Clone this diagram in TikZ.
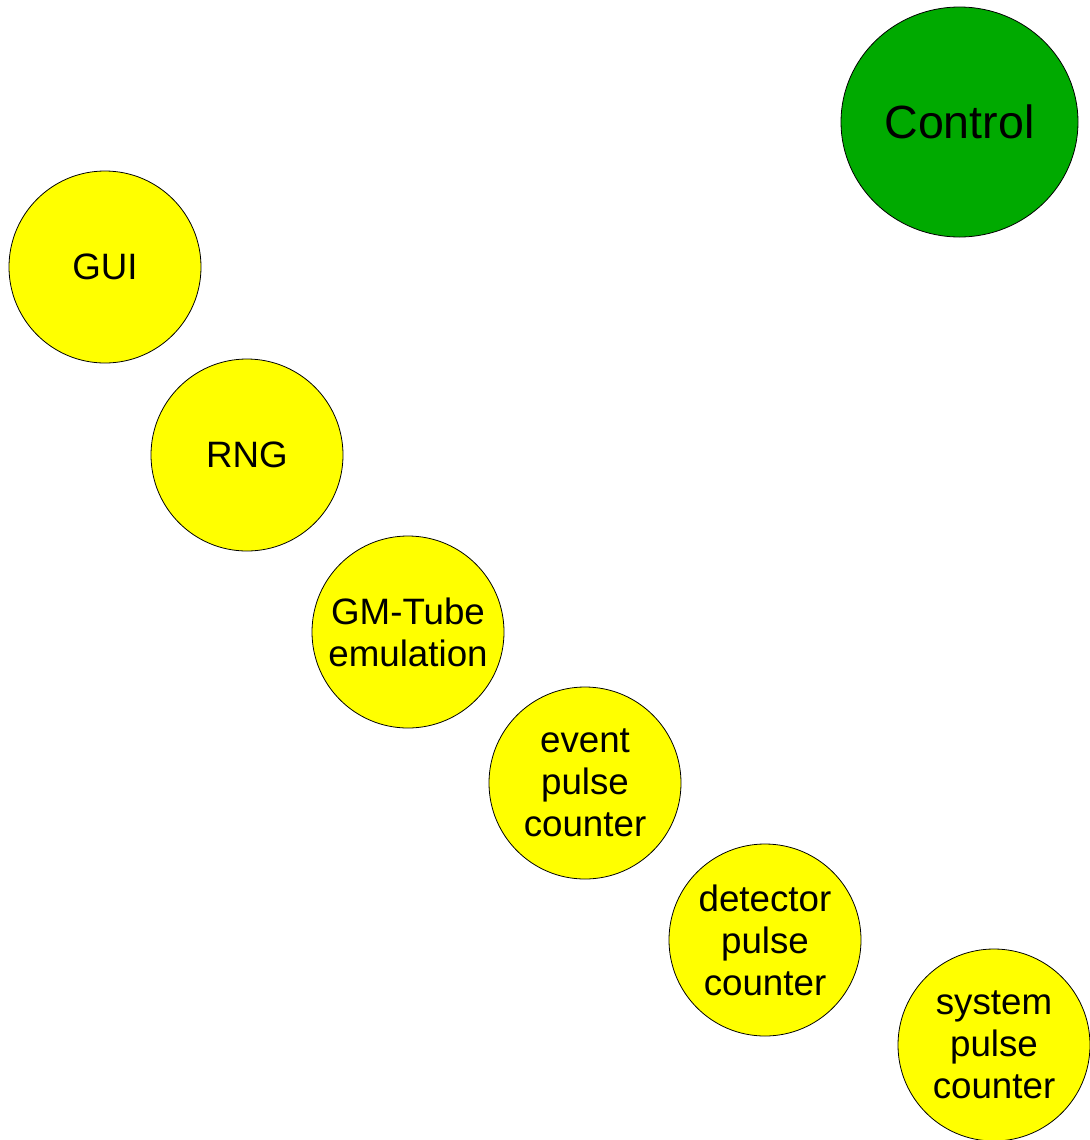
\documentclass[tikz,border=0pt]{standalone}
\usepackage{fontspec}
\setmainfont{Liberation Sans}
\usepackage{tikz}
\usetikzlibrary{positioning,shapes.geometric}

\definecolor{blockyellow}{HTML}{FFFF00}
\definecolor{ctrlgreen}{HTML}{00AA00}

\begin{document}
\begin{tikzpicture}[
  blk/.style={draw=black, line width=0.45pt, circle, fill=blockyellow, align=center,
              inner sep=0pt, minimum size=3.84cm,
              font=\fontsize{20.9}{23.9}\selectfont},
  ctrl/.style={draw=black, line width=0.45pt, ellipse, fill=ctrlgreen, inner sep=0pt,
               minimum width=4.74cm, minimum height=4.6cm,
               font=\fontsize{26.5}{30}\selectfont},
]
\useasboundingbox (0,0) rectangle (21.78,-22.8);

\node[ctrl] (control) at (19.19,-2.44) {Control};

\node[blk] (gui)  at (2.10,-5.34)   {GUI};
\node[blk] (rng)  at (4.94,-9.10)   {RNG};
\node[blk] (gm)   at (8.16,-12.64)  {GM-Tube\\emulation};
\node[blk] (evc)  at (11.70,-15.66) {event\\pulse\\counter};
\node[blk] (detc) at (15.30,-18.80) {detector\\pulse\\counter};
\node[blk] (sysc) at (19.88,-20.90) {system\\pulse\\counter};
\end{tikzpicture}
\end{document}
